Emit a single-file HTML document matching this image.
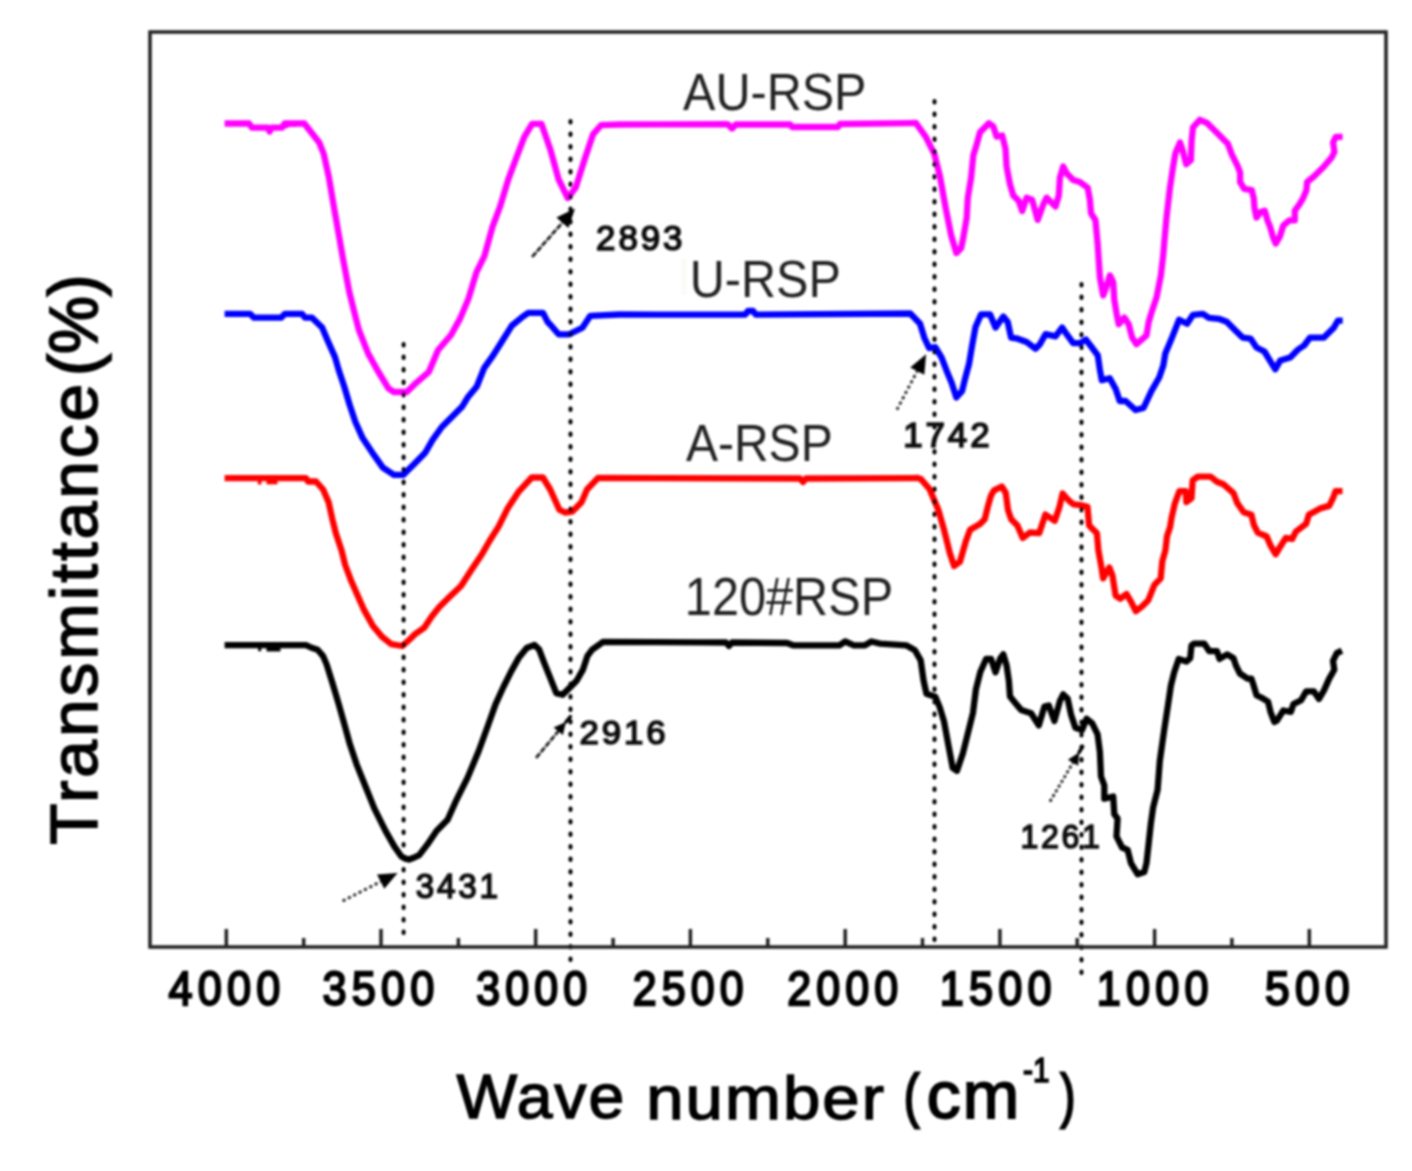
<!DOCTYPE html>
<html><head><meta charset="utf-8"><style>
html,body{margin:0;padding:0;background:#fff;}
body{width:1412px;height:1171px;overflow:hidden;}
svg{display:block;}
text{font-family:"Liberation Sans",sans-serif;}
</style></head><body>
<svg width="1412" height="1171" viewBox="0 0 1412 1171">
<defs><filter id="bl" x="0" y="0" width="100%" height="100%" filterUnits="userSpaceOnUse"><feGaussianBlur stdDeviation="0.8"/></filter></defs>
<rect width="1412" height="1171" fill="#fff"/>
<g filter="url(#bl)">
<rect x="681.5" y="259" width="5" height="36" fill="#f9f9f7"/>
<g fill="none" stroke-linejoin="round" stroke-linecap="butt" stroke-width="6.3">
<polyline stroke="#ff00ff" points="224.6,123.5 249,123.5 252,127.7 268,127.7 269.6,131.5 271.5,127.7 282,127.7 284.5,123.5 304.3,123.5 319.2,142.5 323.7,153.8 328.8,176.8 334,207.6 339,235.7 343,258.8 349.3,292 355.7,317.7 358.9,330 368.1,353.4 377.3,370 388.4,388.4 393.9,392 406.8,392 414.2,384.7 428.9,371.8 438.1,350 451,335 460.2,318.4 468.5,298.6 476.5,272.1 484.4,256.2 492.4,227.1 500.3,205.9 508.3,179.4 516.2,158.2 524.2,137.1 532.1,123.8 541.4,123.8 550.6,150.3 558.6,179.4 567.8,198 575.8,187.4 585,158.2 593,134.4 601,125.2 619.5,124.5 724.6,124.1 728,124.5 732,128.5 736,124.5 790,124.3 792,127 838,127 840,124 915.9,123 925.8,136.8 934.3,153.8 940,176.5 945.6,207.6 951.3,236 956.4,253 961.2,248 963.3,237.7 966.7,217.7 967.8,197.7 971.1,177.7 973.3,155.5 976.7,144.4 980,132.2 988.9,123.3 993.3,126.6 996.6,136.6 1002.2,135.5 1005.5,148.8 1006.6,166.6 1010,184.4 1013.3,195.5 1018.8,201 1022.2,211 1026.6,197.7 1032.2,200 1037.7,219.9 1043.3,204.4 1046.6,197.7 1055.5,206.6 1058.8,195.5 1059.9,177.7 1063.2,166.6 1066.6,173.3 1073.2,179.9 1079.9,182.1 1087.7,187.7 1089.9,199.9 1091,213.2 1095.4,219.9 1097.7,244.3 1099.9,277.6 1103.2,295.4 1106.5,286.5 1109.9,275.4 1113.2,282.1 1114.3,299.8 1116.5,313.1 1118.7,324.2 1124.3,317.6 1128.7,324.2 1132.1,337.6 1136.5,344.2 1146.5,335.3 1148.7,322 1152,310.9 1156.5,297.6 1160.9,275.4 1163.2,255.4 1164.3,242.1 1166.5,217.7 1169.8,188.8 1173.1,166.6 1175.4,153.3 1180,142.4 1182.7,150.6 1186.2,164.2 1190.9,160.1 1191.6,141 1193,127.3 1199.8,119.8 1207.3,123.2 1216.9,132.8 1227.8,143.7 1231.9,154.7 1237.4,165.6 1240.1,172.4 1240.1,182 1244.2,188.8 1251.8,190.2 1253.8,198.4 1254.5,208 1256.5,217.5 1260.6,212.1 1264.7,210.7 1267.5,220.3 1270.2,227.1 1272.9,236.7 1275.7,243.5 1279.8,236.7 1283.2,225.7 1289.3,220.3 1294.8,220.3 1294.8,210.7 1298.9,205.2 1303,198.4 1306.4,190.2 1307.1,182 1313.9,176.5 1323.5,167 1331.7,157.4 1334.4,151.9 1333.1,142.4 1335.8,136.9 1342.6,136.9"/>
<polyline stroke="#0000ff" points="224.6,313.8 250,313.8 254,317.7 281,317.7 285,313.8 302,313.8 305,317.7 312,317.7 322.1,327.6 327.6,340.5 335,357.1 338.7,370 344.2,386.5 349.7,405 355.2,421.5 362.6,438.1 373.7,454.7 382.9,467.6 393.9,474.9 403.1,474.9 414.2,463.9 425.2,452.8 432.6,439.9 441.8,427 452.8,416 462,406.8 467.6,397.6 476.8,386.5 484.1,368.1 493.3,355.2 502.5,340.5 511.7,325.8 522.8,316.6 528.3,312.9 543,312.9 547.7,322.1 550.6,325 558.6,334.3 569.2,334.3 582.4,327.7 590.3,315.8 619.5,314.5 745,314.7 748,311 753,311 756,314.7 910.2,313.5 920.1,323.8 924.4,338 929.2,348.2 935.3,347.2 941.5,357.4 946.6,370.7 951.7,383 956.3,397.4 962,391.2 965,378.9 969.1,363.6 972.2,345 975.5,327 981.1,314.3 990,314.3 995.5,327.6 1003.3,316.5 1007.7,322 1011.1,337.6 1017.7,338.7 1026.6,342 1035.5,348.7 1039.9,344.2 1045.5,334.2 1055.5,336.4 1062.1,327.6 1066.6,334.2 1073.2,343.1 1079.9,343.1 1085.9,339.6 1091.9,347.5 1097.8,355.4 1099.8,369.3 1101.8,380.2 1109.7,378.2 1115.7,389.1 1119.7,401 1125.6,401 1135.5,410 1143.5,408 1151.4,391.1 1159.3,377.2 1163.3,365.4 1165.3,353.5 1171.2,339.6 1179.1,319.7 1187.1,323.7 1193,314.8 1202.9,313.8 1208.9,317.8 1218.8,318.8 1226.7,321.7 1234.7,329.7 1242.6,337.6 1250.5,338.6 1256.5,347.5 1264.4,351.5 1270.4,361.4 1275.3,369.3 1280.3,360.4 1290.2,357.4 1298.1,349.5 1304.1,345.5 1310,337.6 1323.9,337.6 1333.8,327.7 1337.8,320.7 1342.7,320.7"/>
<polyline stroke="#ff0000" points="224.6,478.1 306,478.1 308,481.5 316,481.5 323.1,489.5 328.6,502.3 332.3,518.9 336,533.7 341.5,550.2 345.2,565 350.7,579.7 356.3,592.6 363.6,609.1 372.8,625.7 382,636.8 391.2,644.1 402.3,646 409.6,639.5 415.2,634 424.4,627.6 431.7,616.5 439.1,607.3 450.2,596.3 461,586 471,570.5 482.1,553.9 489.5,541 498.7,526.3 507.9,507.9 518.9,491.3 531.8,477.5 542.9,477.5 550.2,489.5 559.4,509.7 565,512.5 572.3,511.6 581.5,502.3 587,489.5 598.1,477.9 800,478.5 803,482 806,478.5 917.8,478 920.7,478.9 929.5,489 938.2,509.4 944,529.7 949.8,552.9 954.1,566 960,561.7 965.8,541.3 970.1,529.7 980,524 984.7,519.2 987.8,506.7 990.9,495.8 994,490.4 1001.8,486.5 1005.7,492.7 1008,509.9 1011.2,519.2 1017.4,525.4 1022.8,537.9 1029.9,532.5 1039.2,533.2 1045.4,514.5 1054.8,520.8 1059.5,506.7 1062.6,493.5 1068.8,500.5 1073.5,504.4 1081.3,505.2 1087.5,506.7 1089.1,525.4 1096.9,533.2 1098.4,550.4 1101.5,567.5 1103.1,578.4 1109.3,567.5 1112.4,575.3 1115.6,595.6 1120.2,598.7 1126.5,594 1131.1,601.8 1135.8,611.1 1142,606.5 1148.3,600.2 1154.5,584.7 1160.7,578.4 1162.3,561.3 1165.4,550.4 1167,536.3 1170.1,527 1171.6,517.6 1174.8,503.6 1179.4,491.2 1185.7,491.2 1186.4,502.1 1191.5,498.2 1192.7,480.4 1197.8,476.6 1210.6,476.6 1217,481.7 1223.3,484.2 1233.5,493.1 1237.4,503.3 1243.7,512.3 1251.4,514.8 1253.9,525 1257.8,532.7 1266.7,536.5 1270.5,545.4 1275.6,554.3 1279.4,548 1285.8,537.8 1292.2,539 1296,531.4 1306.2,523.7 1308.8,514.8 1320.2,508.4 1329.2,505.9 1333,498.2 1335.5,491.2 1342.5,491.2"/>
<polyline stroke="#000000" points="224.6,645.2 306,645.2 311,647.5 317.6,649.7 320,652.5 323.1,656.1 326.6,664.4 332.2,682.2 338.8,704.4 344.4,724.4 349.9,744.3 356.6,764.3 365.5,786.5 374.4,808.7 385.5,830.9 394.3,846.4 401.4,856.5 405.4,858.6 409,859.5 414.3,857.5 419.2,855.1 427.6,844.2 436.5,830.9 447.6,819.8 456.5,799.8 467.6,777.6 478.7,751 487.8,726 495.6,704.1 503.4,687 511.2,671.4 519,657.4 526.7,648 534.5,644.9 539.2,649.6 543.9,662.1 550.1,677.7 556.3,693.2 562.6,694.8 570.4,687 576.6,680.8 582.8,669.9 587.5,655.8 592.2,649.6 600,644.2 603.1,641.8 700,642.4 726,642.5 729,645.9 732,642.5 787.1,643 793,645.3 839.4,645.3 845.2,641.5 853.9,645.3 865,645.3 871.4,641.5 880.1,643.6 906.2,645.3 914.9,650.2 920.7,660.4 923.6,680.7 926.5,693.8 935.3,696.7 939.6,706.9 944,721.4 948.3,744.6 952.7,767.9 957,770.8 962.9,753.3 967.2,735.9 973,712.7 975.9,689.5 980.3,672 986.1,659 991.1,658.9 995.5,672.2 1000,658.9 1003.3,654.4 1006.6,665.5 1008.9,681.1 1010,696.6 1015.5,703.3 1021.1,709.9 1031.1,713.2 1038.8,725.4 1044.4,706.6 1048.8,705.5 1054.4,721 1059.9,701 1063.2,694.4 1067.7,698.8 1071,714.4 1075.4,727.7 1082.1,729.9 1086.5,718.8 1092.1,723.2 1097.6,734.3 1099.9,752.1 1101,776.5 1104.3,785.4 1104.3,798.7 1113.2,796.5 1114.3,814.2 1117.6,818.7 1116.5,836.4 1122.1,847.5 1127.6,849.8 1130.9,863.1 1137.6,874.2 1144.3,872 1146.5,863.1 1148.7,843.1 1150.9,823.1 1153.1,807.6 1157.6,789.8 1159.8,761 1164.2,729.9 1167.6,707.7 1170.9,685.5 1174.2,672.2 1178.7,658.9 1186.4,661.5 1190.2,658.2 1191.5,645.5 1194,643.6 1204.2,643.6 1209.3,651.2 1217,651.2 1219.5,658.9 1227.2,654.4 1233.5,658.2 1236.1,665.9 1239.9,673.5 1247.6,678.6 1251.4,678.6 1253.9,686.3 1256.5,695.2 1261.6,697.8 1268,701.6 1270.5,711.8 1274.3,722 1276.9,720.7 1283.3,710.5 1290.9,711.8 1293.5,704.1 1301.1,700.3 1306.2,691.4 1313.9,691.4 1319,699 1324.1,690.1 1329.2,678.6 1334.3,669.7 1333,660.8 1336.8,653.1 1341.9,650.6"/>
<polyline stroke="#ff0000" points="266.5,481.2 277.5,481.2"/><polyline stroke="#000000" points="266.5,648.3 280.5,648.3"/><polyline stroke="#ff00ff" points="287.5,125 288.5,127.5"/><polyline stroke="#ff00ff" points="293.6,125 293.6,127"/>
</g>
<rect x="257.9" y="478" width="3.5" height="6.5" fill="#ff0000"/><rect x="258.2" y="645" width="3" height="6.2" fill="#000000"/>
<g stroke="#000" stroke-width="4" stroke-dasharray="1.5 11" stroke-linecap="round" fill="none"><line x1="403.6" y1="344" x2="403.6" y2="937" /><line x1="570.5" y1="121" x2="570.5" y2="960" /><line x1="934.5" y1="101" x2="934.5" y2="940" /><line x1="1081.5" y1="284" x2="1081.5" y2="981" /></g>
<line x1="532.1" y1="256.9" x2="562.4" y2="222.7" stroke="#111" stroke-width="2.6" stroke-dasharray="6 1.5"/><polygon points="575,208.5 568.4,228.0 556.4,217.4" fill="#000"/><line x1="896.9" y1="409.7" x2="917.2" y2="371.1" stroke="#111" stroke-width="2.6" stroke-dasharray="3 3"/><polygon points="926.1,354.3 924.3,374.8 910.2,367.4" fill="#000"/><line x1="536.1" y1="757.9" x2="558.3" y2="731.2" stroke="#111" stroke-width="2.6" stroke-dasharray="6 1.5"/><line x1="565.9" y1="722.0" x2="570.4" y2="716.6" stroke="#000" stroke-width="3.5" stroke-linecap="round"/><polygon points="565.9,722.0 562.9,735.0 553.6,727.4" fill="#000"/><line x1="342.7" y1="901" x2="380.7" y2="881.6" stroke="#111" stroke-width="2.6" stroke-dasharray="3 3"/><polygon points="397.6,873 384.3,888.8 377.0,874.5" fill="#000"/><line x1="1050" y1="801.6" x2="1073.0" y2="762.7" stroke="#111" stroke-width="2.6" stroke-dasharray="3 2.5"/><line x1="1079.1" y1="752.4" x2="1082.7" y2="746.4" stroke="#000" stroke-width="3.5" stroke-linecap="round"/><polygon points="1079.1,752.4 1078.2,765.8 1067.9,759.7" fill="#000"/>
<rect x="150" y="32" width="1236" height="915" fill="none" stroke="#222" stroke-width="3.5"/>
<g stroke="#222" stroke-width="3.5"><line x1="226.3" y1="947" x2="226.3" y2="929" /><line x1="303.7" y1="947" x2="303.7" y2="938" /><line x1="381.0" y1="947" x2="381.0" y2="929" /><line x1="458.4" y1="947" x2="458.4" y2="938" /><line x1="535.7" y1="947" x2="535.7" y2="929" /><line x1="613.1" y1="947" x2="613.1" y2="938" /><line x1="690.4" y1="947" x2="690.4" y2="929" /><line x1="767.8" y1="947" x2="767.8" y2="938" /><line x1="845.2" y1="947" x2="845.2" y2="929" /><line x1="922.5" y1="947" x2="922.5" y2="938" /><line x1="999.9" y1="947" x2="999.9" y2="929" /><line x1="1077.2" y1="947" x2="1077.2" y2="938" /><line x1="1154.6" y1="947" x2="1154.6" y2="929" /><line x1="1231.9" y1="947" x2="1231.9" y2="938" /><line x1="1309.3" y1="947" x2="1309.3" y2="929" /></g>
<g transform="matrix(0.9526,0,0,1.0222,587.74,-196.57)"><text x="100" y="300" font-size="51" font-weight="normal" fill="#222" stroke="#222" stroke-width="0" letter-spacing="0">AU-RSP</text></g>
<g transform="matrix(0.9520,0,0,1.0278,594.59,-11.13)"><text x="100" y="300" font-size="51" font-weight="normal" fill="#222" stroke="#222" stroke-width="0" letter-spacing="0">U-RSP</text></g>
<g transform="matrix(0.9418,0,0,1.0083,591.72,158.40)"><text x="100" y="300" font-size="51" font-weight="normal" fill="#222" stroke="#222" stroke-width="0" letter-spacing="0">A-RSP</text></g>
<g transform="matrix(0.9542,0,0,1.0389,589.46,303.43)"><text x="100" y="300" font-size="51" font-weight="normal" fill="#222" stroke="#222" stroke-width="0" letter-spacing="0">120#RSP</text></g>
<g transform="matrix(0.9678,0,0,0.9571,499.35,-37.50)"><text x="100" y="300" font-size="36" font-weight="normal" fill="#111" stroke="#111" stroke-width="1.7" letter-spacing="3">2893</text></g>
<g transform="matrix(0.9709,0,0,0.9536,806.07,160.57)"><text x="100" y="300" font-size="36" font-weight="normal" fill="#111" stroke="#111" stroke-width="1.7" letter-spacing="3">1742</text></g>
<g transform="matrix(0.9667,0,0,0.9179,482.87,468.32)"><text x="100" y="300" font-size="36" font-weight="normal" fill="#111" stroke="#111" stroke-width="1.7" letter-spacing="3">2916</text></g>
<g transform="matrix(0.9230,0,0,0.9571,323.48,611.00)"><text x="100" y="300" font-size="36" font-weight="normal" fill="#111" stroke="#111" stroke-width="1.7" letter-spacing="3">3431</text></g>
<g transform="matrix(0.8907,0,0,0.9107,931.35,574.48)"><text x="100" y="300" font-size="36" font-weight="normal" fill="#111" stroke="#111" stroke-width="1.7" letter-spacing="3">1261</text></g>
<g transform="matrix(0.8643,0,0,0.9605,82.07,716.38)"><text x="100" y="300" font-size="50" font-weight="normal" fill="#000" stroke="#000" stroke-width="2.4" letter-spacing="6">4000</text></g>
<g transform="matrix(0.8664,0,0,0.9605,235.79,716.38)"><text x="100" y="300" font-size="50" font-weight="normal" fill="#000" stroke="#000" stroke-width="2.4" letter-spacing="6">3500</text></g>
<g transform="matrix(0.8578,0,0,0.9605,390.56,716.38)"><text x="100" y="300" font-size="50" font-weight="normal" fill="#000" stroke="#000" stroke-width="2.4" letter-spacing="6">3000</text></g>
<g transform="matrix(0.8578,0,0,0.9605,546.96,716.38)"><text x="100" y="300" font-size="50" font-weight="normal" fill="#000" stroke="#000" stroke-width="2.4" letter-spacing="6">2500</text></g>
<g transform="matrix(0.8594,0,0,0.9605,701.30,716.38)"><text x="100" y="300" font-size="50" font-weight="normal" fill="#000" stroke="#000" stroke-width="2.4" letter-spacing="6">2000</text></g>
<g transform="matrix(0.8651,0,0,0.9605,853.30,716.38)"><text x="100" y="300" font-size="50" font-weight="normal" fill="#000" stroke="#000" stroke-width="2.4" letter-spacing="6">1500</text></g>
<g transform="matrix(0.8651,0,0,0.9605,1010.20,716.38)"><text x="100" y="300" font-size="50" font-weight="normal" fill="#000" stroke="#000" stroke-width="2.4" letter-spacing="6">1000</text></g>
<g transform="matrix(0.8872,0,0,0.9605,1176.29,716.38)"><text x="100" y="300" font-size="50" font-weight="normal" fill="#000" stroke="#000" stroke-width="2.4" letter-spacing="6">500</text></g>
<g transform="matrix(1.0036,0,0,0.9745,356.04,825.19)"><text x="100" y="300" font-size="64" font-weight="normal" fill="#000" stroke="#000" stroke-width="1.5" letter-spacing="2">Wave</text></g>
<g transform="matrix(1.0475,0,0,0.9551,541.46,832.01)"><text x="100" y="300" font-size="64" font-weight="normal" fill="#000" stroke="#000" stroke-width="1.5" letter-spacing="2">number</text></g>
<g transform="matrix(0.7048,0,0,0.9226,833.51,839.71)"><text x="100" y="300" font-size="64" font-weight="normal" fill="#000" stroke="#000" stroke-width="3.0" letter-spacing="0">(</text></g>
<g transform="matrix(1.0585,0,0,1.0333,820.93,808.47)"><text x="100" y="300" font-size="64" font-weight="normal" fill="#000" stroke="#000" stroke-width="1.8" letter-spacing="2">cm</text></g>
<g transform="matrix(0.8032,0,0,0.9643,942.67,792.75)"><text x="100" y="300" font-size="37" font-weight="normal" fill="#000" stroke="#000" stroke-width="1.8" letter-spacing="0">-1</text></g>
<g transform="matrix(0.6762,0,0,0.9226,993.13,839.71)"><text x="100" y="300" font-size="64" font-weight="normal" fill="#000" stroke="#000" stroke-width="3.0" letter-spacing="0">)</text></g>
<g transform="matrix(0.9528,0,0,0.9667,-188.80,168.10)"><text transform="translate(300,700) rotate(-90)" font-size="70" font-weight="normal" fill="#000" stroke="#000" stroke-width="1.6" letter-spacing="3">Transmittance</text></g>
<g transform="matrix(0.9662,0,0,0.9314,-192.91,-276.17)"><text transform="translate(300,700) rotate(-90)" font-size="70" font-weight="normal" fill="#000" stroke="#000" stroke-width="2.0" letter-spacing="0">(%)</text></g>
</g>
</svg>
</body></html>
